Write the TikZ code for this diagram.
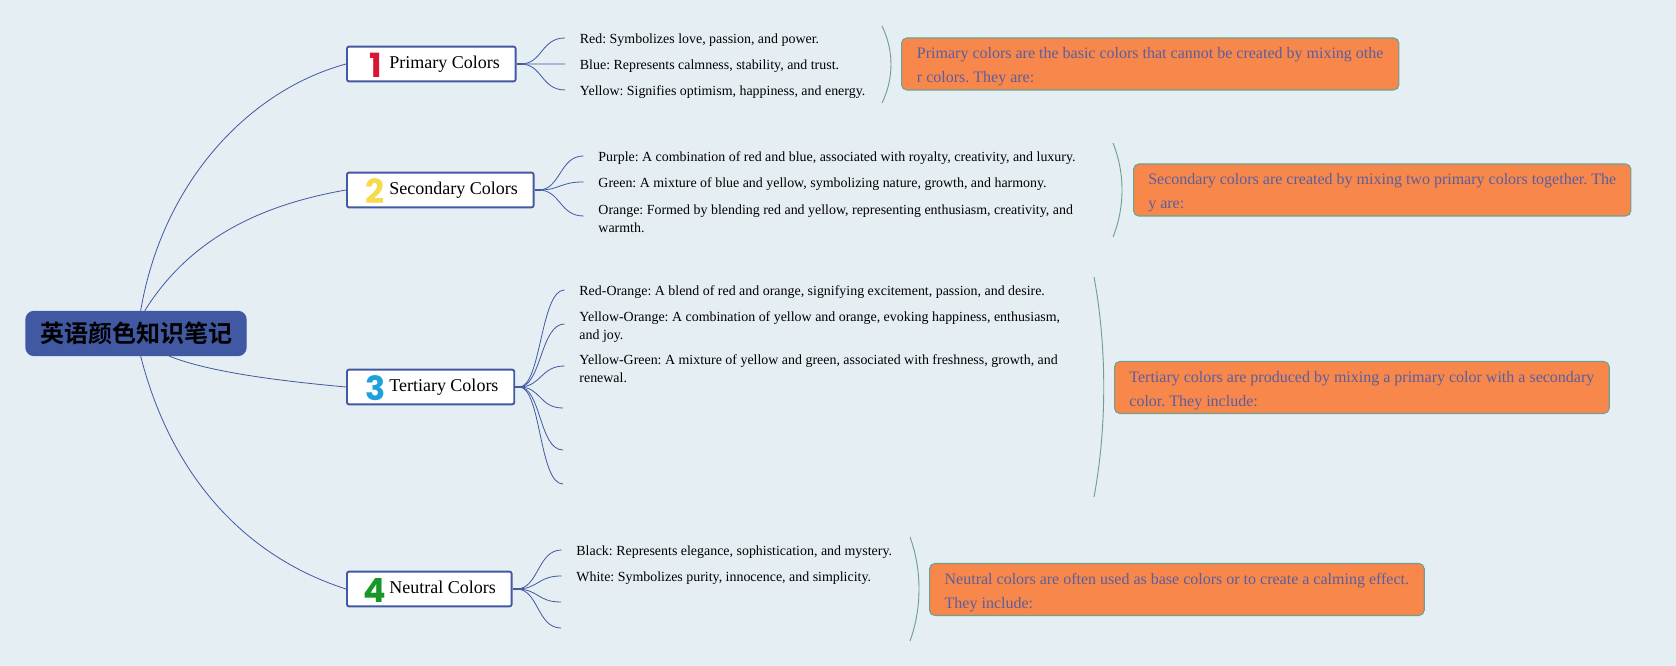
\documentclass[tikz,border=0pt]{standalone}
\usepackage{fontspec}
\setmainfont{Liberation Serif}
\newfontfamily\cjkfont{Noto Sans CJK SC}[BoldFont={Noto Sans CJK SC Bold}]
\newfontfamily\numfont{Poppins}
\definecolor{bgc}{HTML}{E5EEF3}
\definecolor{blueb}{HTML}{4158A2}
\definecolor{orangec}{HTML}{F8874B}
\definecolor{calltext}{HTML}{5A5E9E}
\definecolor{greenb}{HTML}{6FA08F}
\frenchspacing
\tikzset{
 x=0.75pt,y=-0.75pt,
 rootbox/.style={draw=blueb,fill=blueb,line width=1pt,rounded corners=6pt,minimum width=165pt,minimum height=33pt,inner sep=0pt,font=\cjkfont\bfseries\fontsize{18}{22}\selectfont,text=black},
 topicbox/.style={draw=blueb,fill=white,line width=1.4pt,rounded corners=1.5pt,minimum height=26pt,inner sep=0pt,anchor=west},
 topictext/.style={font=\fontsize{13.5}{16}\selectfont,anchor=west,inner sep=0pt},
 numtext/.style={font=\numfont\bfseries\fontsize{25}{27}\selectfont,inner sep=0pt},
 leaftext/.style={font=\fontsize{10.45}{13.5}\selectfont,align=left,anchor=west,inner ysep=0pt,inner xsep=11pt},
 callbox/.style={draw=greenb,fill=orangec,line width=0.8pt,rounded corners=4pt,minimum height=39pt,inner sep=0pt,inner xsep=11pt,align=left,anchor=west,text=calltext,font=\fontsize{12}{18}\selectfont},
 conn/.style={draw=blueb,line width=0.6pt},
 stub/.style={draw=blueb,line width=1.4pt},
 brace/.style={draw=greenb,line width=0.7pt},
}
\newcommand{\callstrut}{\rule{0pt}{12.5pt}}
\begin{document}
\begin{tikzpicture}
\useasboundingbox[fill=bgc] (0,0) rectangle (1676,666);
\node[topicbox,minimum width=126.5pt] (t1) at (346,64) {};
\node[topicbox,minimum width=140pt] (t2) at (346,190) {};
\node[topicbox,minimum width=125.5pt] (t3) at (346,387) {};
\node[topicbox,minimum width=123.5pt] (t4) at (346,589) {};
\node[rootbox] (root) at (136,333.5) {英语颜色知识笔记};
\node[numtext,text={rgb,255:red,214;green,22;blue,50}] (n1) at (375.5,65) {1};
\node[numtext,text={rgb,255:red,247;green,217;blue,76}] (n2) at (375,191) {2};
\node[numtext,text={rgb,255:red,30;green,160;blue,220}] (n3) at (375.5,388) {3};
\node[numtext,text={rgb,255:red,24;green,150;blue,40}] (n4) at (375,590) {4};
\node[topictext] (l1) at (389,64) {Primary Colors};
\node[topictext] (l2) at (389,190) {Secondary Colors};
\node[topictext] (l3) at (389,387) {Tertiary Colors};
\node[topictext] (l4) at (389,587) {Neutral Colors};
% leaves
\node[leaftext] (a1) at (565,40.5) {Red: Symbolizes love, passion, and power.};
\node[leaftext] (a2) at (565,66.5) {Blue: Represents calmness, stability, and trust.};
\node[leaftext] (a3) at (565,92.5) {Yellow: Signifies optimism, happiness, and energy.};
\node[leaftext] (b1) at (583.5,158.5) {Purple: A combination of red and blue, associated with royalty, creativity, and luxury.};
\node[leaftext] (b2) at (583.5,184.5) {Green: A mixture of blue and yellow, symbolizing nature, growth, and harmony.};
\node[leaftext] (b3) at (583.5,219) {Orange: Formed by blending red and yellow, representing enthusiasm, creativity, and\\warmth.};
\node[leaftext] (c1) at (564.5,292.5) {Red-Orange: A blend of red and orange, signifying excitement, passion, and desire.};
\node[leaftext] (c2) at (564.5,327) {Yellow-Orange: A combination of yellow and orange, evoking happiness, enthusiasm,\\and joy.};
\node[leaftext] (c3) at (564.5,369) {Yellow-Green: A mixture of yellow and green, associated with freshness, growth, and\\renewal.};
\node[leaftext] (d1) at (561.5,552.5) {Black: Represents elegance, sophistication, and mystery.};
\node[leaftext] (d2) at (561.5,578.5) {White: Symbolizes purity, innocence, and simplicity.};
\coordinate (c4) at (563,408);
\coordinate (c5) at (563,450);
\coordinate (c6) at (563,484);
\coordinate (d3) at (561,602);
\coordinate (d4) at (561,628);
% callouts
\node[callbox,minimum width=373pt] (k1) at (901,64) {\callstrut Primary colors are the basic colors that cannot be created by mixing othe\\r colors. They are:};
\node[callbox,minimum width=373pt] (k2) at (1133,190) {\callstrut Secondary colors are created by mixing two primary colors together. The\\y are:};
\node[callbox,minimum width=371pt] (k3) at (1114,387.5) {\callstrut Tertiary colors are produced by mixing a primary color with a secondary\\color. They include:};
\node[callbox,minimum width=371pt] (k4) at (929,589.5) {\callstrut Neutral colors are often used as base colors or to create a calming effect.\\They include:};
% main connectors
\draw[conn] ([xshift=3.5pt]root.north) .. controls +(22,-130) and +(-96,26) .. (t1.west);
\draw[conn] ([xshift=6.5pt]root.north) .. controls +(45,-72) and +(-86,15) .. (t2.west);
\draw[conn] ([xshift=25pt]root.south) .. controls +(40,16) and +(-66,-6) .. (t3.west);
\draw[conn] ([xshift=3.5pt]root.south) .. controls +(29,114) and +(-106,-34) .. (t4.west);
% leaf connectors
\foreach \s in {t1,t2,t3,t4} \draw[stub] (\s.east) -- ++(6,0);
\foreach \s/\e in {t1/a1,t1/a2,t1/a3,t2/b1,t2/b2,t3/c1,t4/d1,t4/d2}
  \draw[conn] ([xshift=3pt]\s.east) .. controls +(22,0) and +(-24,0) .. ([yshift=1.9pt]\e.west);
\draw[conn] ([xshift=3pt]t2.east) .. controls +(22,0) and +(-24,0) .. ([yshift=2.25pt]b3.west);
\draw[conn] ([xshift=3pt]t3.east) .. controls +(22,0) and +(-24,0) .. ([yshift=2.25pt]c2.west);
\draw[conn] ([xshift=3pt]t3.east) .. controls +(22,0) and +(-24,0) .. ([yshift=2.25pt]c3.west);
\foreach \e in {c4,c5,c6} \draw[conn] ([xshift=3pt]t3.east) .. controls +(22,0) and +(-24,0) .. (\e);
\foreach \e in {d3,d4} \draw[conn] ([xshift=3pt]t4.east) .. controls +(22,0) and +(-24,0) .. (\e);
% braces
\coordinate (p1a) at (882,26); \coordinate (p1b) at (882,103);
\coordinate (p2a) at (1113,143); \coordinate (p2b) at (1113,237);
\coordinate (p3a) at (1094,277); \coordinate (p3b) at (1094,497);
\coordinate (p4a) at (910,537); \coordinate (p4b) at (910,641);
\draw[brace] (p1a) .. controls +(12,25) and +(12,-25) .. (p1b);
\draw[brace] (p2a) .. controls +(12,30) and +(12,-30) .. (p2b);
\draw[brace] (p3a) .. controls +(13,70) and +(13,-70) .. (p3b);
\draw[brace] (p4a) .. controls +(12,33) and +(12,-33) .. (p4b);
\end{tikzpicture}
\end{document}
